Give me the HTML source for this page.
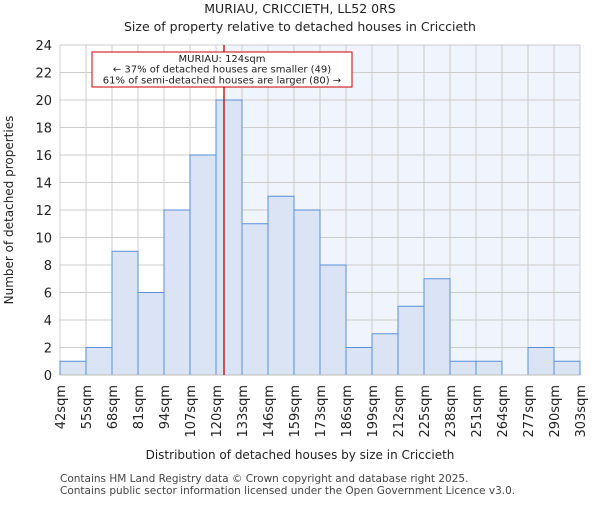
<!DOCTYPE html>
<html><head><meta charset="utf-8"><style>body{margin:0;background:#fff}svg{font-family:"DejaVu Sans","Liberation Sans",sans-serif}</style></head>
<body>
<svg id="c" width="600" height="500" xmlns="http://www.w3.org/2000/svg">
<text x="300" y="13" text-anchor="middle" font-size="12.5" fill="#222">MURIAU, CRICCIETH, LL52 0RS</text>
<text x="300" y="31" text-anchor="middle" font-size="12.5" fill="#222">Size of property relative to detached houses in Criccieth</text>
<g id="plot"></g>
<text x="300" y="459" text-anchor="middle" font-size="12" fill="#222">Distribution of detached houses by size in Criccieth</text>
<text transform="translate(13,210) rotate(-90)" text-anchor="middle" font-size="12" fill="#222">Number of detached properties</text>
<text x="60" y="482" font-size="10.5" fill="#444">Contains HM Land Registry data © Crown copyright and database right 2025.</text>
<text x="60" y="494" font-size="10.5" fill="#444">Contains public sector information licensed under the Open Government Licence v3.0.</text>
</svg>
<script>
const categories=["42sqm","55sqm","68sqm","81sqm","94sqm","107sqm","120sqm","133sqm","146sqm","159sqm","173sqm","186sqm","199sqm","212sqm","225sqm","238sqm","251sqm","264sqm","277sqm","290sqm","303sqm"];
const counts=[1,2,9,6,12,16,20,11,13,12,8,2,3,5,7,1,1,0,2,1];
const yTicks=[0,2,4,6,8,10,12,14,16,18,20,22,24];
const markerValue=124;
const binStart=42, binWidth=13;
const L=60,R=580,T=45,B=375,yMax=24;
const NS="http://www.w3.org/2000/svg";
const g=document.getElementById('plot');
const bw=(R-L)/counts.length;
const xs=v=>L+(v-binStart)/binWidth*bw;
const ys=v=>B-v/yMax*(B-T);
function el(t,a){const e=document.createElementNS(NS,t);for(const k in a)e.setAttribute(k,a[k]);g.appendChild(e);return e;}
const mx=xs(markerValue);
let e=el('rect',{x:mx,y:T,width:R-mx,height:B-T,fill:'#f0f4fc'});


yTicks.forEach(t=>{
 let l=el('line',{x1:L,x2:R,y1:ys(t),y2:ys(t),stroke:'#cccccc','stroke-width':1});
 
 
 let tx=el('text',{x:L-8,y:ys(t)+5,'text-anchor':'end','font-size':13,fill:'#222'});
 tx.textContent=t;
 
 
});
categories.forEach((c,i)=>{
 const x=L+i*bw;
 let l=el('line',{x1:x,x2:x,y1:T,y2:B,stroke:'#cccccc','stroke-width':1});
 
 
 let tx=el('text',{transform:`translate(${x+5},385) rotate(-90)`,'text-anchor':'end','font-size':13,fill:'#222'});
 tx.textContent=c;
 
 
});
counts.forEach((v,i)=>{
 if(v<=0)return;
 let r=el('rect',{x:L+i*bw,y:ys(v),width:bw,height:B-ys(v),fill:'#dae4f4',stroke:'#5a8fd5','stroke-width':1});
 
 
});
e=el('line',{x1:L,x2:R,y1:B,y2:B,stroke:'#bbbbbb'});


e=el('line',{x1:mx,x2:mx,y1:T,y2:B,stroke:'#c00000','stroke-width':1.3});


e=el('rect',{x:92,y:52,width:260,height:35,fill:'#fff',stroke:'#cc0000','stroke-width':1});


["MURIAU: 124sqm","← 37% of detached houses are smaller (49)","61% of semi-detached houses are larger (80) →"].forEach((s,i)=>{
 let t=el('text',{x:222,y:62+i*10.7,'text-anchor':'middle','font-size':10,fill:'#222'});
 t.textContent=s;
 
 
});
</script>
</body></html>
